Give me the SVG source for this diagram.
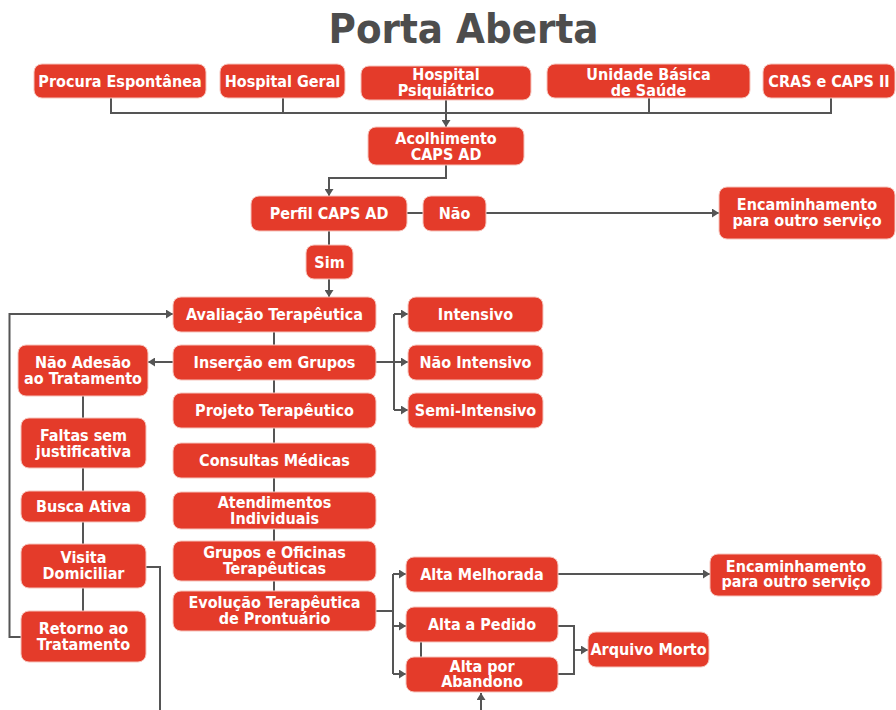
<svg xmlns="http://www.w3.org/2000/svg" width="896" height="710" viewBox="0 0 896 710">
<style>
.n rect{fill:#E43B2A;stroke:#F6C4BC;stroke-width:1}
.n text{fill:#fff;font-family:"DejaVu Sans Condensed","DejaVu Sans",sans-serif;font-stretch:condensed;font-weight:bold;font-size:16px;text-anchor:middle}
.c path{fill:none;stroke:#555;stroke-width:2}
.a{marker-end:url(#ah)}
.title{fill:#4D4D4D;font-family:"DejaVu Sans Condensed","DejaVu Sans",sans-serif;font-stretch:condensed;font-weight:bold;font-size:41.5px;text-anchor:middle}
</style>
<defs>
<marker id="ah" markerUnits="userSpaceOnUse" markerWidth="8" markerHeight="9" refX="7" refY="4.5" orient="auto">
<path d="M0,0 L7,4.5 L0,9 z" fill="#555"/>
</marker>
</defs>
<rect width="896" height="710" fill="#fff"/>
<text class="title" x="463.5" y="43">Porta Aberta</text>

<g class="c" id="connectors">
<path d="M111,98 V113 H831 V98"/>
<path d="M283,98 V113"/>
<path d="M649,98 V113"/>
<path class="a" d="M446,100 V127"/>
<path class="a" d="M446,165 V178 H329 V196"/>
<path d="M407,213 H423"/>
<path class="a" d="M486,213 H719"/>
<path d="M329,231 V245"/>
<path class="a" d="M329,279 V297"/>
<path d="M274,332 V345 M274,380 V393 M274,428 V443 M274,478 V492 M274,529 V541 M274,581 V591"/>
<path class="a" d="M173,362 H148"/>
<path d="M376,362 H394 M394,314 V410"/>
<path class="a" d="M394,314 H408"/>
<path class="a" d="M394,362 H408"/>
<path class="a" d="M394,410 H408"/>
<path d="M83,396 V418 M83,468 V491 M83,522 V544 M83,588 V611"/>
<path class="a" d="M21,637 H9.5 V314 H173"/>
<path d="M146,567 H160 V712"/>
<path d="M376,611 H393 M393,574 V674"/>
<path class="a" d="M393,574 H406"/>
<path class="a" d="M393,626 H406"/>
<path class="a" d="M393,674 H406"/>
<path class="a" d="M558,574 H710"/>
<path d="M558,626 H574 V674 H558"/>
<path class="a" d="M574,650 H588"/>
<path d="M421,642 V657"/>
<path class="a" d="M481,712 V693"/>
</g>

<g class="n" id="procura"><rect x="34" y="64" width="172" height="34" rx="8"/><text x="120" y="87">Procura Espontânea</text></g>
<g class="n" id="hospital-geral"><rect x="220" y="64" width="125" height="34" rx="8"/><text x="282.5" y="87">Hospital Geral</text></g>
<g class="n" id="hospital-psiq"><rect x="361" y="66" width="170" height="34" rx="8"/><text x="446" y="80">Hospital<tspan x="446" dy="16">Psiquiátrico</tspan></text></g>
<g class="n" id="ubs"><rect x="547" y="64" width="203" height="34" rx="8"/><text x="648.5" y="79.5">Unidade Básica<tspan x="648.5" dy="16">de Saúde</tspan></text></g>
<g class="n" id="cras"><rect x="763" y="64" width="132" height="34" rx="8"/><text x="829" y="87">CRAS e CAPS II</text></g>
<g class="n" id="acolhimento"><rect x="368" y="127" width="156" height="38" rx="8"/><text x="446" y="144">Acolhimento<tspan x="446" dy="16">CAPS AD</tspan></text></g>
<g class="n" id="perfil"><rect x="251" y="196" width="156" height="35" rx="8"/><text x="329" y="219">Perfil CAPS AD</text></g>
<g class="n" id="nao"><rect x="423" y="196" width="63" height="35" rx="8"/><text x="454.5" y="219">Não</text></g>
<g class="n" id="encaminhamento-1"><rect x="719" y="187" width="176" height="52" rx="8"/><text x="807" y="210">Encaminhamento<tspan x="807" dy="16">para outro serviço</tspan></text></g>
<g class="n" id="sim"><rect x="306" y="245" width="47" height="34" rx="8"/><text x="329.5" y="268">Sim</text></g>
<g class="n" id="avaliacao"><rect x="173" y="297" width="203" height="35" rx="8"/><text x="274.5" y="320">Avaliação Terapêutica</text></g>
<g class="n" id="insercao"><rect x="173" y="345" width="203" height="35" rx="8"/><text x="274.5" y="368">Inserção em Grupos</text></g>
<g class="n" id="projeto"><rect x="173" y="393" width="203" height="35" rx="8"/><text x="274.5" y="416">Projeto Terapêutico</text></g>
<g class="n" id="consultas"><rect x="173" y="443" width="203" height="35" rx="8"/><text x="274.5" y="466">Consultas Médicas</text></g>
<g class="n" id="atendimentos"><rect x="173" y="492" width="203" height="37" rx="8"/><text x="274.5" y="508">Atendimentos<tspan x="274.5" dy="15.5">Individuais</tspan></text></g>
<g class="n" id="grupos"><rect x="173" y="541" width="203" height="40" rx="8"/><text x="274.5" y="558">Grupos e Oficinas<tspan x="274.5" dy="16">Terapêuticas</tspan></text></g>
<g class="n" id="evolucao"><rect x="173" y="591" width="203" height="40" rx="8"/><text x="274.5" y="608">Evolução Terapêutica<tspan x="274.5" dy="16">de Prontuário</tspan></text></g>
<g class="n" id="nao-adesao"><rect x="18" y="345" width="130" height="51" rx="8"/><text x="83" y="368">Não Adesão<tspan x="83" dy="16">ao Tratamento</tspan></text></g>
<g class="n" id="faltas"><rect x="21" y="418" width="125" height="50" rx="8"/><text x="83.5" y="441">Faltas sem<tspan x="83.5" dy="15.5">justificativa</tspan></text></g>
<g class="n" id="busca-ativa"><rect x="21" y="491" width="125" height="31" rx="8"/><text x="83.5" y="512">Busca Ativa</text></g>
<g class="n" id="visita"><rect x="21" y="544" width="125" height="44" rx="8"/><text x="83.5" y="563">Visita<tspan x="83.5" dy="16">Domiciliar</tspan></text></g>
<g class="n" id="retorno"><rect x="21" y="611" width="125" height="51" rx="8"/><text x="83.5" y="633.5">Retorno ao<tspan x="83.5" dy="16.5">Tratamento</tspan></text></g>
<g class="n" id="intensivo"><rect x="408" y="297" width="135" height="35" rx="8"/><text x="475.5" y="320">Intensivo</text></g>
<g class="n" id="nao-intensivo"><rect x="408" y="345" width="135" height="35" rx="8"/><text x="475.5" y="368">Não Intensivo</text></g>
<g class="n" id="semi-intensivo"><rect x="408" y="393" width="135" height="35" rx="8"/><text x="475.5" y="416">Semi-Intensivo</text></g>
<g class="n" id="alta-melhorada"><rect x="406" y="557" width="152" height="35" rx="8"/><text x="482" y="580">Alta Melhorada</text></g>
<g class="n" id="alta-pedido"><rect x="406" y="607" width="152" height="35" rx="8"/><text x="482" y="630">Alta a Pedido</text></g>
<g class="n" id="alta-abandono"><rect x="406" y="657" width="152" height="35" rx="8"/><text x="482" y="672">Alta por<tspan x="482" dy="15">Abandono</tspan></text></g>
<g class="n" id="arquivo-morto"><rect x="588" y="632" width="121" height="35" rx="8"/><text x="648.5" y="655">Arquivo Morto</text></g>
<g class="n" id="encaminhamento-2"><rect x="710" y="554" width="172" height="42" rx="8"/><text x="796" y="572">Encaminhamento<tspan x="796" dy="15">para outro serviço</tspan></text></g>
</svg>
